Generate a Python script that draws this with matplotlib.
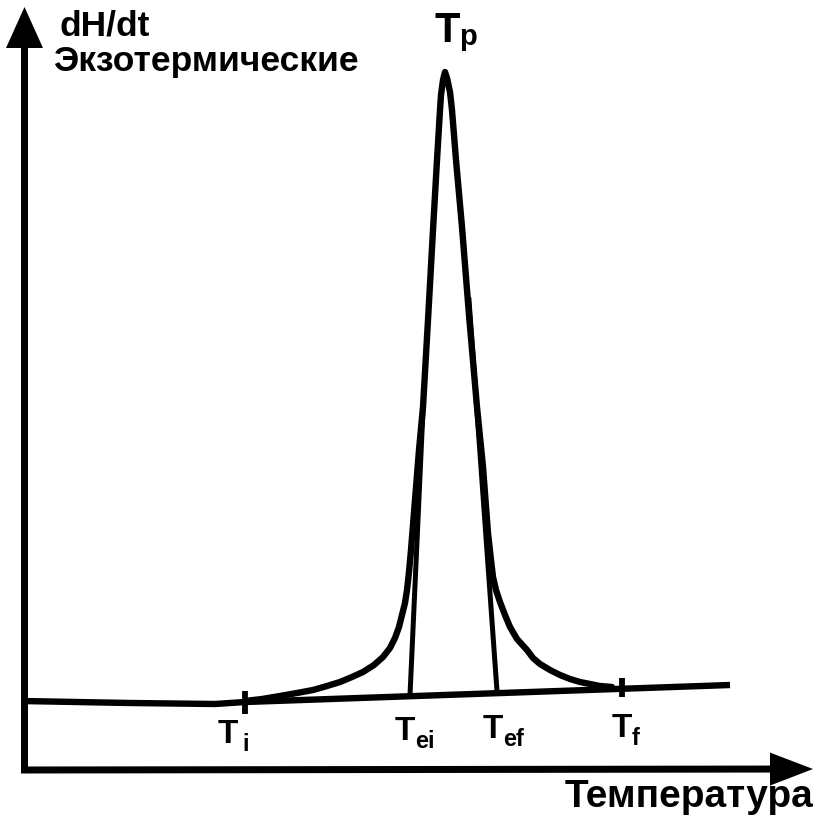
import matplotlib
matplotlib.use("Agg")
import matplotlib.pyplot as plt

# ── Data (pixel-like units, y grows downward) ─────────────────────────────
# DSC peak curve
curve_x = [245, 262, 280, 297, 313, 327, 340, 352, 363, 374, 383, 390, 395,
           399, 402, 405, 407, 409, 411, 415, 419, 423, 428, 433, 437, 440,
           441, 443, 445, 447, 450, 452, 456, 462, 469, 477, 483, 488, 491,
           493, 496, 500, 505, 510, 517, 527, 533, 540, 550, 560, 570, 580,
           590, 600, 612]
curve_y = [701, 699, 696, 693, 690, 686, 682, 677, 672, 665, 657, 648, 638,
           627, 615, 603, 590, 572, 550, 500, 450, 407, 320, 230, 160, 110,
           95, 80, 72, 78, 92, 110, 160, 227, 315, 407, 467, 533, 560,
           577, 590, 602, 615, 627, 639, 650, 658, 664, 670, 675, 679, 682,
           684, 686, 687]

# baseline (slightly rising after T_i)
base_x = [22, 130, 215, 245, 730]
base_y = [701, 703, 704, 702, 685]

# extrapolation tangents (onset / end)
tan_left_x = [410, 423]
tan_left_y = [695, 410]
tan_right_x = [497, 469]
tan_right_y = [691, 300]

# tick marks on the baseline: T_i and T_f
tick_x = [245, 622]
tick_y0 = [691, 678]
tick_y1 = [714, 697]

# point labels: (main, subscript, x, baseline y)
labels = [("T", "i", 218, 743),
          ("T", "ei", 395, 740),
          ("T", "ef", 483, 738),
          ("T", "f", 612, 737)]

W, H = 823, 826
plt.rcParams["font.family"] = ["Liberation Sans", "DejaVu Sans"]

fig = plt.figure(figsize=(W / 100, H / 100), dpi=100)
ax = fig.add_axes([0, 0, 1, 1])
ax.set_xlim(0, W)
ax.set_ylim(H, 0)
ax.axis("off")

# axes as arrows
ax.arrow(24.5, 773, 0, 7 - 773, width=7, head_width=37, head_length=41,
         length_includes_head=True, fc="black", ec="none")
ax.arrow(21, 770, 813 - 21, -1, width=7, head_width=33, head_length=43,
         length_includes_head=True, fc="black", ec="none")

# baseline, curve, tangents
ax.plot(base_x, base_y, color="black", linewidth=4.6, solid_capstyle="butt")
ax.plot(curve_x, curve_y, color="black", linewidth=4.6,
        solid_joinstyle="round", solid_capstyle="round")
ax.plot(tan_left_x, tan_left_y, color="black", linewidth=3.6)
ax.plot(tan_right_x, tan_right_y, color="black", linewidth=3.6)
ax.vlines(tick_x, tick_y0, tick_y1, color="black", linewidth=4.2)

# labels
for main, sub, x, y in labels:
    ax.text(x, y, main, fontsize=24, fontweight="bold",
            ha="left", va="baseline")
    ax.text(x + 20 + (4 if sub == "i" else 0), y + 8, sub, fontsize=17,
            fontweight="bold", ha="left", va="baseline")

ax.text(435, 42, "T", fontsize=30, fontweight="bold", ha="left", va="baseline")
ax.text(459, 45, "p", fontsize=21, fontweight="bold", ha="left", va="baseline")

ax.text(60, 35, "dH/dt", fontsize=25.5, fontweight="bold",
        ha="left", va="baseline")
ax.text(53, 71, "Экзотермические", fontsize=25.5, fontweight="bold",
        ha="left", va="baseline")
ax.text(565, 807, "Температура", fontsize=28, fontweight="bold",
        ha="left", va="baseline")

fig.savefig("out.png", dpi=100, facecolor="white")
